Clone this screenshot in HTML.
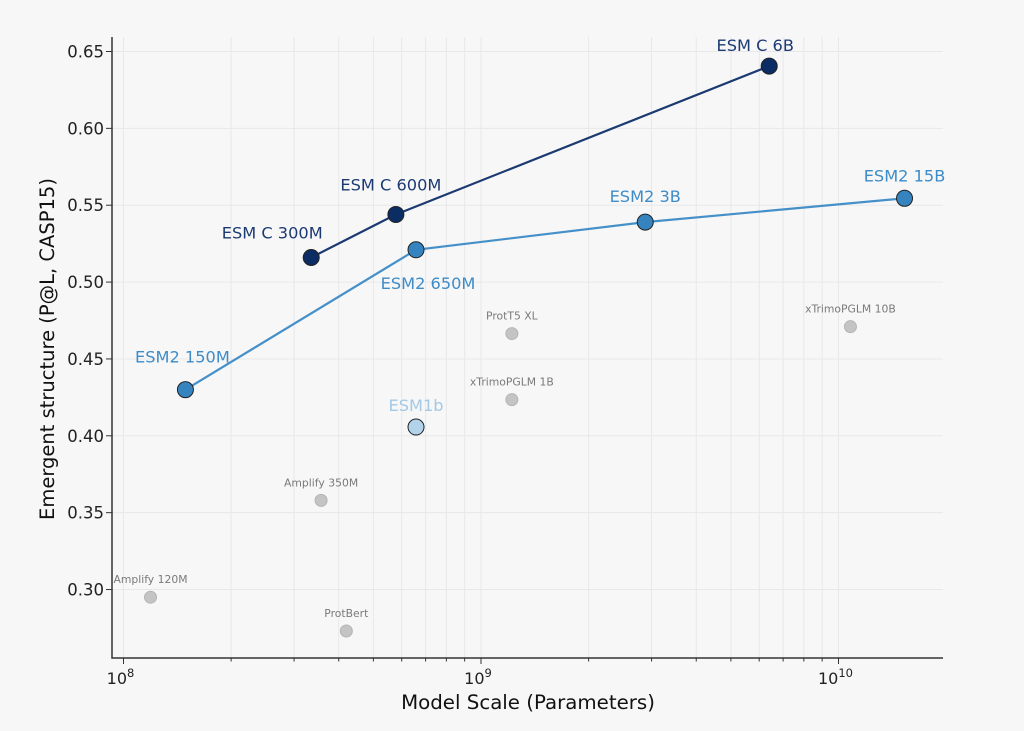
<!DOCTYPE html>
<html><head><meta charset="utf-8">
<style>
html,body{margin:0;padding:0;background:#f7f7f7;}
svg{display:block;font-family:"DejaVu Sans","Liberation Sans",sans-serif;}
</style></head>
<body>
<svg id="chart" width="1024" height="731">
<rect width="1024" height="731" fill="#f7f7f7"/>
<g id="grid"></g><g id="axes"></g><g id="series"></g>
</svg>
<script>
const esmcNames=["ESM C 300M","ESM C 600M","ESM C 6B"];
const esmcParams=[3.35e8,5.78e8,6.4e9];
const esmcScores=[0.516,0.544,0.6405];
const esm2Names=["ESM2 150M","ESM2 650M","ESM2 3B","ESM2 15B"];
const esm2Params=[1.49e8,6.58e8,2.88e9,1.53e10];
const esm2Scores=[0.430,0.521,0.539,0.5545];
const esm1bParams=[6.58e8];
const esm1bScores=[0.4057];
const otherNames=["Amplify 120M","ProtBert","Amplify 350M","ProtT5 XL","xTrimoPGLM 1B","xTrimoPGLM 10B"];
const otherParams=[1.19e8,4.2e8,3.57e8,1.22e9,1.22e9,1.08e10];
const otherScores=[0.295,0.273,0.358,0.4665,0.4235,0.471];
const yTicks=[0.30,0.35,0.40,0.45,0.50,0.55,0.60,0.65];
const yTickLabels=["0.30","0.35","0.40","0.45","0.50","0.55","0.60","0.65"];
const xDecades=[8,9,10];

const NS="http://www.w3.org/2000/svg";
const L=112,R=943,T=37,B=658;
function xs(v){return 123.5+(Math.log10(v)-8)*357.5;}
function ys(v){return 51.5+(0.65-v)*1537.2;}
function mk(tag,attrs,parent,text){const e=document.createElementNS(NS,tag);for(const k in attrs)e.setAttribute(k,attrs[k]);if(text!==undefined)e.textContent=text;parent.appendChild(e);return e;}
const grid=document.getElementById('grid'),axes=document.getElementById('axes'),series=document.getElementById('series');

for(const d of [7,8,9,10]){for(let m=1;m<10;m++){const x=xs(m*Math.pow(10,d));if(x<L||x>R)continue;
 const g=mk('line',{x1:x,x2:x,y1:T,y2:B,stroke:'#e8e8e8','stroke-width':1},grid);
 
 
 const t=mk('line',{x1:x,x2:x,y1:B,y2:B+(m===1?6:3.5),stroke:'#333','stroke-width':1},axes);
 
 }}
yTicks.forEach((v,i)=>{const y=ys(v);
 const g=mk('line',{x1:L,x2:R,y1:y,y2:y,stroke:'#e8e8e8','stroke-width':1},grid);
 
 
 const t=mk('line',{x1:L-6,x2:L,y1:y,y2:y,stroke:'#333','stroke-width':1},axes);
 
 
 const l=mk('text',{x:L-8,y:y+6,'text-anchor':'end','font-size':16.5,fill:'#222'},axes,yTickLabels[i]);
 
 });
xDecades.forEach(d=>{const x=xs(Math.pow(10,d));
 const l=mk('text',{x:x-3,y:B+26,'text-anchor':'middle','font-size':16,fill:'#222'},axes);
 
 
 mk('tspan',{},l,'10');mk('tspan',{'font-size':11.5,dy:-7},l,String(d));});
const sp=mk('path',{d:`M${L},${T}V${B}H${R}`,fill:'none',stroke:'#333','stroke-width':1.5},axes);


const xt=mk('text',{x:528,y:709,'text-anchor':'middle','font-size':19.8,fill:'#111'},axes,'Model Scale (Parameters)');


const yt=mk('text',{x:0,y:0,transform:'translate(54,349) rotate(-90)','text-anchor':'middle','font-size':19.5,fill:'#111'},axes,'Emergent structure (P@L, CASP15)');



otherParams.forEach((p,i)=>{const x=xs(p),y=ys(otherScores[i]);
 const c=mk('circle',{cx:x,cy:y,r:6,fill:'#c4c4c4',stroke:'#b4b4b4','stroke-width':1},series);
 
 
 const t=mk('text',{x:x,y:y-14,'text-anchor':'middle','font-size':10.8,fill:'#7a7a7a'},series,otherNames[i]);
 
 });

function drawSeries(params,scores,names,lineColor,fill,labelColor,offs,nm){
 const d=params.map((p,i)=>(i?'L':'M')+xs(p)+','+ys(scores[i])).join('');
 const ln=mk('path',{d:d,fill:'none',stroke:lineColor,'stroke-width':2.2},series);
 
 
 params.forEach((p,i)=>{const x=xs(p),y=ys(scores[i]);
  const c=mk('circle',{cx:x,cy:y,r:8,fill:fill,stroke:'#222','stroke-width':1},series);
  
  
  const t=mk('text',{x:x+offs[i][0],y:y+offs[i][1],'text-anchor':'middle','font-size':16.2,fill:labelColor},series,names[i]);
  
  });}
drawSeries(esm2Params,esm2Scores,esm2Names,'#4590c9','#3584c0','#3d8cc8',[[-3,-27],[12,39],[0,-20],[0,-17]],'esm2');
drawSeries(esmcParams,esmcScores,esmcNames,'#1c3a72','#0c2c64','#1c3a72',[[-39,-19],[-5,-24],[-14,-15]],'esm-c');
esm1bParams.forEach((p,i)=>{const x=xs(p),y=ys(esm1bScores[i]);
 const c=mk('circle',{cx:x,cy:y,r:8,fill:'#b3d3ea',stroke:'#222','stroke-width':1},series);
 
 
 const t=mk('text',{x:x,y:y-16,'text-anchor':'middle','font-size':16.2,fill:'#a3c9e6'},series,'ESM1b');
 
 });
</script>
</body></html>
